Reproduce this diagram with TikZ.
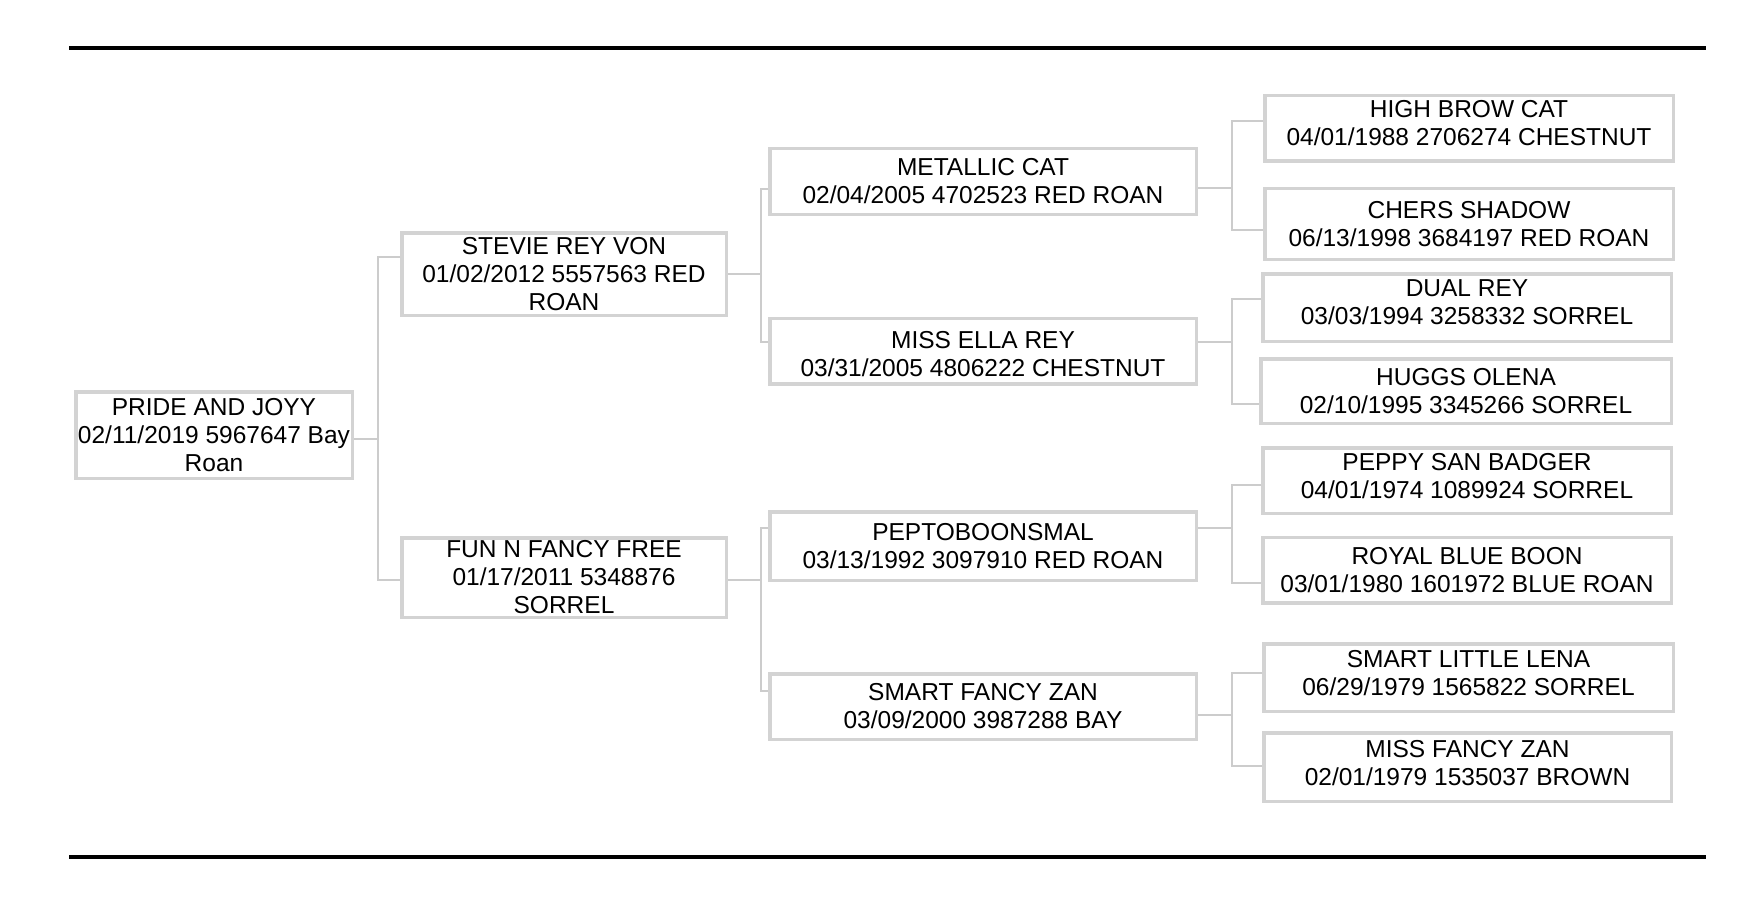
\documentclass[tikz,border=0pt]{standalone}
\usepackage{fontspec}
\setmainfont{Liberation Sans}
\definecolor{boxgray}{HTML}{D3D3D3}
\definecolor{linegray}{HTML}{CCCCCC}
\tikzset{
  pbox/.style={draw=boxgray, line width=3.5pt, inner sep=0pt, align=center,
    font=\fontsize{24.5}{28}\selectfont, text=black},
  conn/.style={draw=linegray, line width=2pt},
  rule/.style={draw=black, line width=4pt}
}
% text block raised by #1 inside its box, without changing the box
\newcommand\tx[2]{\setbox0=\hbox{\begin{tabular}{@{}c@{}}#2\end{tabular}}%
  \raisebox{#1}[\ht0][\dp0]{\copy0}}
\newcommand\famlink[7]{%
  \coordinate (#1-o) at (#4,#5);
  \draw[conn] (#1.east |- #1-o) -- (#1-o);
  \draw[conn] (#2.west |- 0,#6) -- (#4,#6) -- (#4,#7) -- (#3.west |- 0,#7);
}
\begin{document}
\begin{tikzpicture}[x=1pt,y=-1pt]
\fill[white] (0,0) rectangle (1752,904);
\useasboundingbox (0,0) rectangle (1752,904);
% rules
\coordinate (tl) at (69,48); \coordinate (tr) at (1706,48);
\coordinate (bl) at (69,857); \coordinate (br) at (1706,857);
\draw[rule] (tl) -- (tr);
\draw[rule] (bl) -- (br);
% generation 0
\node[pbox, minimum width=276.5, minimum height=86.5] (pride) at (214,435)
  {PRIDE AND JOYY\\02/11/2019 5967647 Bay\\Roan};
% generation 1
\node[pbox, minimum width=324.5, minimum height=82.5] (stevie) at (564,274)
  {STEVIE REY VON\\01/02/2012 5557563 RED\\ROAN};
\node[pbox, minimum width=324.5, minimum height=79.5] (fun) at (564,577.5)
  {FUN N FANCY FREE\\01/17/2011 5348876\\SORREL};
% generation 2
\node[pbox, minimum width=426.5, minimum height=65.5] (metallic) at (983,181.5)
  {METALLIC CAT\\02/04/2005 4702523 RED ROAN};
\node[pbox, minimum width=426.5, minimum height=65.5] (ella) at (983,351)
  {\tx{-5.5pt}{MISS ELLA REY\\03/31/2005 4806222 CHESTNUT}};
\node[pbox, minimum width=426.5, minimum height=68.5] (pepto) at (983,546)
  {PEPTOBOONSMAL\\03/13/1992 3097910 RED ROAN};
\node[pbox, minimum width=426.5, minimum height=65.5] (smartfancy) at (983,706.5)
  {SMART FANCY ZAN\\03/09/2000 3987288 BAY};
% generation 3
\node[pbox, minimum width=408.5, minimum height=65.5] (highbrow) at (1469,128.5)
  {\tx{3pt}{HIGH BROW CAT\\04/01/1988 2706274 CHESTNUT}};
\node[pbox, minimum width=408.5, minimum height=70.5] (chers) at (1469,224)
  {CHERS SHADOW\\06/13/1998 3684197 RED ROAN};
\node[pbox, minimum width=408.5, minimum height=67.5] (dual) at (1467,307.5)
  {\tx{3pt}{DUAL REY\\03/03/1994 3258332 SORREL}};
\node[pbox, minimum width=410.5, minimum height=64.5] (huggs) at (1466,391)
  {HUGGS OLENA\\02/10/1995 3345266 SORREL};
\node[pbox, minimum width=408.5, minimum height=65.5] (peppy) at (1467,480.5)
  {\tx{2pt}{PEPPY SAN BADGER\\04/01/1974 1089924 SORREL}};
\node[pbox, minimum width=408.5, minimum height=65.5] (royal) at (1467,570)
  {ROYAL BLUE BOON\\03/01/1980 1601972 BLUE ROAN};
\node[pbox, minimum width=409.5, minimum height=67.5] (smartlittle) at (1468.5,677.5)
  {\tx{2pt}{SMART LITTLE LENA\\06/29/1979 1565822 SORREL}};
\node[pbox, minimum width=407.5, minimum height=68.5] (missfancy) at (1467.5,767)
  {\tx{1.5pt}{MISS FANCY ZAN\\02/01/1979 1535037 BROWN}};
% connectors
\famlink{pride}{stevie}{fun}{378}{439}{257}{580}
\famlink{stevie}{metallic}{ella}{761}{274}{189}{342}
\famlink{fun}{pepto}{smartfancy}{761}{580}{528}{691}
\famlink{metallic}{highbrow}{chers}{1232}{188}{121}{230}
\famlink{ella}{dual}{huggs}{1232}{342}{299}{404}
\famlink{pepto}{peppy}{royal}{1232}{528}{485}{583}
\famlink{smartfancy}{smartlittle}{missfancy}{1232}{715}{673}{766}
\end{tikzpicture}
\end{document}
